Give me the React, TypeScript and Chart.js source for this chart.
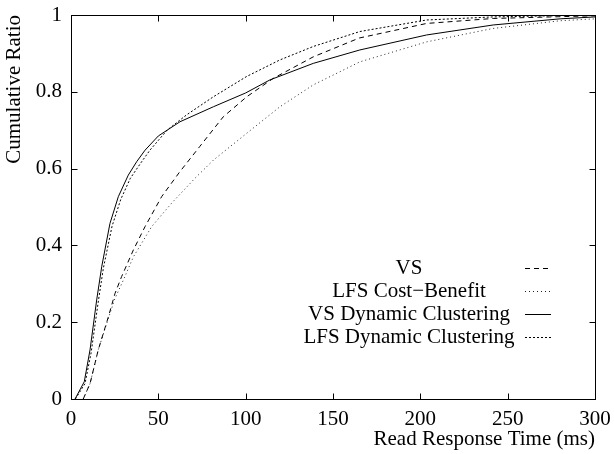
import React, { useEffect, useRef } from 'react';
import { Chart, registerables } from 'chart.js';

Chart.register(...registerables);

const seriesLabels = ['VS', 'LFS Cost\u2212Benefit', 'VS Dynamic Clustering', 'LFS Dynamic Clustering'];

const vsX = [7, 10.9, 15.6, 21.4, 25.2, 29, 35.7, 42.4, 51.9, 62, 73.8, 87.2, 100.6, 115.8, 138.7, 165, 203.6, 241.7, 300];
const vsY = [0, 0.04, 0.128, 0.214, 0.275, 0.319, 0.388, 0.449, 0.527, 0.59, 0.658, 0.735, 0.787, 0.835, 0.891, 0.94, 0.978, 0.991, 0.998];

const lfsCbX = [7, 10.9, 15.6, 21.4, 25, 30, 35.7, 46.2, 57.6, 71, 81.5, 100.6, 119.6, 138.7, 165.4, 203.6, 241.7, 280, 300];
const lfsCbY = [0, 0.04, 0.128, 0.21, 0.26, 0.31, 0.37, 0.449, 0.51, 0.575, 0.622, 0.692, 0.761, 0.818, 0.878, 0.93, 0.965, 0.985, 0.99];

const vsDcX = [2.3, 7.6, 10.9, 14.7, 17.6, 22.3, 27.1, 32.8, 37.6, 42.4, 50, 62.4, 81.5, 100, 113.9, 138.7, 165.4, 203.6, 241.7, 280, 300];
const vsDcY = [0, 0.045, 0.128, 0.258, 0.345, 0.457, 0.527, 0.583, 0.618, 0.648, 0.685, 0.722, 0.761, 0.797, 0.831, 0.874, 0.909, 0.948, 0.974, 0.99, 0.995];

const lfsDcX = [2.5, 8, 11.5, 15.5, 18.5, 23.5, 28.5, 34, 40, 45.2, 55, 66.2, 81.5, 100.6, 119.6, 138.7, 165.4, 203.6, 241.7, 300];
const lfsDcY = [0, 0.04, 0.12, 0.25, 0.34, 0.45, 0.52, 0.575, 0.615, 0.648, 0.7, 0.74, 0.787, 0.84, 0.883, 0.918, 0.957, 0.987, 0.995, 1.0];

const xTickValues = [0, 50, 100, 150, 200, 250, 300];
const yTickValues = [0, 0.2, 0.4, 0.6, 0.8, 1];

const xTitle = 'Read Response Time (ms)';
const yTitle = 'Cumulative Ratio';

const FONT = '"Liberation Serif", "DejaVu Serif", serif';

function pts(xs: number[], ys: number[]) {
  return xs.map((x, i) => ({ x, y: ys[i] }));
}

const framePlugin = {
  id: 'frame',
  afterDatasetsDraw(chart: any) {
    const { ctx, chartArea: a, scales } = chart;
    const x = scales.x;
    const y = scales.y;
    ctx.save();
    ctx.strokeStyle = '#000';
    ctx.lineWidth = 1;
    ctx.setLineDash([]);
    const L = Math.round(a.left) + 0.5;
    const R = Math.round(a.right) + 0.5;
    const T = Math.round(a.top) + 0.5;
    const B = Math.round(a.bottom) + 0.5;
    ctx.strokeRect(L, T, R - L, B - T);
    ctx.beginPath();
    for (const v of xTickValues) {
      const px = Math.round(x.getPixelForValue(v)) + 0.5;
      ctx.moveTo(px, B);
      ctx.lineTo(px, B - 6);
      ctx.moveTo(px, T);
      ctx.lineTo(px, T + 6);
    }
    for (const v of yTickValues) {
      const py = Math.round(y.getPixelForValue(v)) + 0.5;
      ctx.moveTo(L, py);
      ctx.lineTo(L + 6, py);
      ctx.moveTo(R, py);
      ctx.lineTo(R - 6, py);
    }
    ctx.stroke();
    ctx.restore();
  },
};

const legendPlugin = {
  id: 'customLegend',
  afterDraw(chart: any) {
    const { ctx } = chart;
    const ds = chart.data.datasets;
    ctx.save();
    ctx.font = `21px ${FONT}`;
    ctx.fillStyle = '#000';
    ctx.textAlign = 'center';
    ctx.textBaseline = 'middle';
    const rows = [268, 291, 314, 337];
    ds.forEach((d: any, i: number) => {
      const cy = rows[i];
      ctx.fillText(d.label, 409, cy);
      ctx.beginPath();
      ctx.strokeStyle = d.borderColor;
      ctx.lineWidth = d.borderWidth;
      ctx.setLineDash(d.borderDash || []);
      ctx.moveTo(525, cy + 0.5);
      ctx.lineTo(551, cy + 0.5);
      ctx.stroke();
    });
    ctx.restore();
  },
};

export default function App() {
  const ref = useRef<HTMLCanvasElement | null>(null);
  useEffect(() => {
    if (!ref.current) return;
    const common = { borderColor: '#000', borderWidth: 1, pointRadius: 0, tension: 0, fill: false };
    const chart = new Chart(ref.current, {
      type: 'line',
      data: {
        datasets: [
          { ...common, label: seriesLabels[0], data: pts(vsX, vsY), borderDash: [5, 4] },
          { ...common, label: seriesLabels[1], data: pts(lfsCbX, lfsCbY), borderDash: [1, 3], borderColor: '#222' },
          { ...common, label: seriesLabels[2], data: pts(vsDcX, vsDcY), borderDash: [] },
          { ...common, label: seriesLabels[3], data: pts(lfsDcX, lfsDcY), borderDash: [2, 2] },
        ],
      },
      options: {
        responsive: false,
        animation: false,
        devicePixelRatio: 1,
        layout: { padding: { left: 0, top: 15, right: 19, bottom: 0 } },
        plugins: { legend: { display: false }, tooltip: { enabled: false } },
        scales: {
          x: {
            type: 'linear',
            min: 0,
            max: 300,
            grid: { display: false, drawTicks: false },
            border: { display: false },
            afterBuildTicks: (s: any) => { s.ticks = xTickValues.map((v) => ({ value: v })); },
            afterFit: (s: any) => { s.height = 55; s.paddingLeft = 0; s.paddingRight = 0; },
            ticks: { color: '#000', font: { family: FONT, size: 21 }, padding: 8, maxRotation: 0, callback: (v: any) => String(v) },
            title: { display: true, text: xTitle, align: 'end', color: '#000', font: { family: FONT, size: 21 }, padding: { top: 0, bottom: 2 } },
          },
          y: {
            type: 'linear',
            min: 0,
            max: 1,
            grid: { display: false, drawTicks: false },
            border: { display: false },
            afterBuildTicks: (s: any) => { s.ticks = yTickValues.map((v) => ({ value: v })); },
            afterFit: (s: any) => { s.width = 71; s.paddingTop = 0; s.paddingBottom = 0; },
            ticks: { color: '#000', font: { family: FONT, size: 21 }, padding: 9, callback: (v: any) => String(Number(Number(v).toFixed(1))) },
            title: { display: true, text: yTitle, align: 'end', color: '#000', font: { family: FONT, size: 21 }, padding: { top: 2, bottom: 0 } },
          },
        },
      },
      plugins: [framePlugin, legendPlugin],
    });
    return () => chart.destroy();
  }, []);
  return (
    <div style={{ position: 'absolute', left: 0, top: 0, width: 614, height: 454, background: '#fff' }}>
      <canvas ref={ref} width={614} height={454} style={{ display: 'block' }} />
    </div>
  );
}
